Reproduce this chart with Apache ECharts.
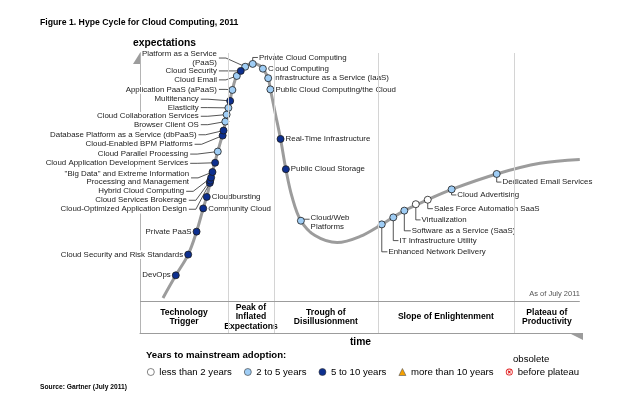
<!DOCTYPE html>
<html lang="en">
<head>
<meta charset="UTF-8" />
<title>Hype Cycle for Cloud Computing, 2011</title>
<script src="https://cdn.jsdelivr.net/npm/echarts@6/dist/echarts.min.js"></script>
<style>
  html, body { margin: 0; background: #fff; }
  #app { width: 640px; height: 397px; }
</style>
</head>
<body>
<div id="app"></div>
<script>
const FONT = '"Liberation Sans", Arial, sans-serif';

// years to mainstream adoption
const years = ['less than 2 years', '2 to 5 years', '5 to 10 years', 'more than 10 years', 'before plateau'];
const yearColors = ['#ffffff', '#9fcdf5', '#0d2f8f', '#f5a000', '#e02020'];

// the hype curve, [time, expectations]
const curve = [
  [5.2, 12.5], [8.1, 20.6], [10.9, 28.0], [12.8, 36.2], [14.3, 44.5], [15.4, 50.5],
  [16.4, 57.5], [17.6, 64.8], [18.9, 72.3], [20.0, 80.4], [20.9, 86.8], [21.9, 91.8],
  [23.8, 95.1], [25.5, 96.3], [27.0, 95.6], [27.8, 94.4], [29.0, 91.0], [29.5, 87.0],
  [30.6, 78.5], [31.8, 69.3], [33.0, 58.5], [34.4, 48.6], [36.4, 40.1], [39.6, 34.8],
  [44.6, 32.3], [49.8, 34.5], [54.7, 38.8], [59.8, 43.7], [65.1, 47.6], [70.5, 51.3],
  [80.7, 56.8], [90.5, 60.6], [99.5, 62.0]
];

// technologies: [name, time, expectations, years index]
const techs = [
  ['DevOps', 8.1, 20.6, 2],
  ['Cloud Security and Risk Standards', 10.9, 28.0, 2],
  ['Private PaaS', 12.8, 36.2, 2],
  ['Community Cloud', 14.3, 44.5, 2],
  ['Cloudbursting', 15.1, 48.6, 2],
  ['Cloud-Optimized Application Design', 15.8, 53.6, 2],
  ['Cloud Services Brokerage', 15.9, 54.4, 2],
  ['Hybrid Cloud Computing', 16.1, 55.5, 2],
  ['"Big Data" and Extreme Information\nProcessing and Management', 16.4, 57.5, 2],
  ['Cloud Application Development Services', 17.0, 60.8, 2],
  ['Cloud Parallel Processing', 17.6, 64.8, 1],
  ['Cloud-Enabled BPM Platforms', 18.7, 70.5, 2],
  ['Database Platform as a Service (dbPaaS)', 18.9, 72.3, 2],
  ['Browser Client OS', 19.3, 75.5, 1],
  ['Cloud Collaboration Services', 19.6, 78.0, 1],
  ['Elasticity', 20.0, 80.4, 1],
  ['Multitenancy', 20.4, 82.9, 2],
  ['Application PaaS (aPaaS)', 20.9, 86.8, 1],
  ['Cloud Email', 21.9, 91.8, 1],
  ['Cloud Security', 22.8, 93.6, 2],
  ['Platform as a Service\n(PaaS)', 23.8, 95.1, 1],
  ['Private Cloud Computing', 25.5, 96.1, 1],
  ['Cloud Computing', 27.8, 94.4, 1],
  ['Infrastructure as a Service (IaaS)', 29.0, 91.0, 1],
  ['Public Cloud Computing/the Cloud', 29.5, 87.0, 1],
  ['Real-Time Infrastructure', 31.8, 69.3, 2],
  ['Public Cloud Storage', 33.0, 58.5, 2],
  ['Cloud/Web\nPlatforms', 36.4, 40.1, 1],
  ['Enhanced Network Delivery', 54.7, 38.8, 1],
  ['IT Infrastructure Utility', 57.3, 41.3, 1],
  ['Software as a Service (SaaS)', 59.8, 43.7, 1],
  ['Virtualization', 62.4, 46.0, 0],
  ['Sales Force Automation SaaS', 65.1, 47.6, 0],
  ['Cloud Advertising', 70.5, 51.3, 1],
  ['Dedicated Email Services', 80.7, 56.8, 1]
];

// where each name is written: [name, label time, label expectations, kind]
// L = leader to a label on the left, D = down then right, U = up then right,
// H = short dash right, R = plain right, P = plain left
const callouts = [
  ['DevOps', null, null, 'P'],
  ['Cloud Security and Risk Standards', null, null, 'P'],
  ['Private PaaS', null, null, 'P'],
  ['Community Cloud', null, null, 'R'],
  ['Cloudbursting', null, null, 'R'],
  ['Cloud-Optimized Application Design', 10.6, 44.2, 'L'],
  ['Cloud Services Brokerage', 10.6, 47.4, 'L'],
  ['Hybrid Cloud Computing', 10.0, 50.6, 'L'],
  ['"Big Data" and Extreme Information\nProcessing and Management', 11.1, 55.4, 'L'],
  ['Cloud Application Development Services', 10.9, 60.6, 'L'],
  ['Cloud Parallel Processing', 10.9, 63.9, 'L'],
  ['Cloud-Enabled BPM Platforms', 11.9, 67.4, 'L'],
  ['Database Platform as a Service (dbPaaS)', 12.8, 70.8, 'L'],
  ['Browser Client OS', 13.3, 74.4, 'L'],
  ['Cloud Collaboration Services', 13.3, 77.4, 'L'],
  ['Elasticity', 13.3, 80.5, 'L'],
  ['Multitenancy', 13.3, 83.5, 'L'],
  ['Application PaaS (aPaaS)', 17.4, 87.0, 'L'],
  ['Cloud Email', 17.4, 90.4, 'L'],
  ['Cloud Security', 17.4, 93.6, 'L'],
  ['Platform as a Service\n(PaaS)', 17.4, 98.2, 'L'],
  ['Private Cloud Computing', 26.9, 98.4, 'U'],
  ['Cloud Computing', null, null, 'R'],
  ['Infrastructure as a Service (IaaS)', null, null, 'R'],
  ['Public Cloud Computing/the Cloud', null, null, 'R'],
  ['Real-Time Infrastructure', null, null, 'R'],
  ['Public Cloud Storage', null, null, 'R'],
  ['Cloud/Web\nPlatforms', 38.6, 39.6, 'H'],
  ['Enhanced Network Delivery', 56.2, 29.0, 'D'],
  ['IT Infrastructure Utility', 58.7, 33.0, 'D'],
  ['Software as a Service (SaaS)', 61.5, 36.5, 'D'],
  ['Virtualization', 63.7, 40.4, 'D'],
  ['Sales Force Automation SaaS', 66.5, 44.4, 'D'],
  ['Cloud Advertising', 71.8, 49.3, 'D'],
  ['Dedicated Email Services', 82.0, 53.9, 'D']
];

// phases along the time axis
const phases = ['Technology\nTrigger', 'Peak of\nInflated\nExpectations', 'Trough of\nDisillusionment',
  'Slope of Enlightenment', 'Plateau of\nProductivity'];
const phaseEdges = [0, 19.9, 30.3, 53.8, 84.6, 99.5];
const bandTop = 11.4;

const techByName = {};
techs.forEach(t => { techByName[t[0]] = t; });

const crossIcon = 'path://M12 1A11 11 0 1 0 12.001 1ZM12 3.8A8.2 8.2 0 1 1 11.999 3.8Z' +
  'M6.7 8.8L8.8 6.7L17.3 15.2L15.2 17.3ZM15.2 6.7L17.3 8.8L8.8 17.3L6.7 15.2Z';

function renderCallout(params, api) {
  const c = callouts[params.dataIndex];
  const t = techByName[c[0]];
  const p = api.coord([t[1], t[2]]);
  const a = c[1] == null ? null : api.coord([c[1], c[2]]);
  let pts = null, tx, ty, align = 'left';
  if (c[3] === 'L') {
    pts = [[p[0], p[1]], [a[0] + 9, a[1]], [a[0] + 2, a[1]]];
    tx = a[0]; ty = a[1]; align = 'right';
  } else if (c[3] === 'D' || c[3] === 'U') {
    pts = [[p[0], p[1]], [p[0], a[1]], [a[0] - 1, a[1]]];
    tx = a[0]; ty = a[1];
  } else if (c[3] === 'H') {
    pts = [[p[0], p[1] - 1.5], [a[0] - 1, p[1] - 1.5]];
    tx = a[0]; ty = a[1];
  } else if (c[3] === 'R') {
    tx = p[0] + 5; ty = p[1];
  } else {
    tx = p[0] - 5; ty = p[1]; align = 'right';
  }
  const children = [];
  if (pts) {
    children.push({
      type: 'polyline', shape: { points: pts },
      style: { stroke: '#2a2a2a', lineWidth: 0.8, fill: 'none' }
    });
  }
  children.push({
    type: 'text',
    style: {
      text: c[0], x: tx, y: ty, align: align, verticalAlign: 'middle',
      fontSize: 7.9, fontFamily: FONT, fill: '#222', lineHeight: 8.7,
      backgroundColor: '#fff'
    }
  });
  return { type: 'group', children: children };
}

const chart = echarts.init(document.getElementById('app'));

const series = [
  {
    type: 'line',
    data: curve,
    smooth: 0.35,
    symbol: 'none',
    silent: true,
    z: 2,
    lineStyle: { color: '#9c9c9c', width: 3 },
    markLine: {
      silent: true,
      symbol: ['none', 'none'],
      label: { show: false },
      data: phaseEdges.slice(1, 5).map(x => [
        { coord: [x, 0], lineStyle: { color: '#d4d4d4', width: 1, type: 'solid' } },
        { coord: [x, 100] }
      ]).concat([[
        { coord: [0, bandTop], lineStyle: { color: '#9c9c9c', width: 1, type: 'solid' } },
        { coord: [99.5, bandTop] }
      ]])
    },
    markArea: {
      silent: true,
      itemStyle: { color: 'transparent' },
      label: {
        show: true, position: 'inside', color: '#000', fontFamily: FONT,
        fontWeight: 'bold', fontSize: 8.6, lineHeight: 9.6
      },
      data: phases.map((ph, i) => [
        { name: ph, coord: [phaseEdges[i], 0] },
        { coord: [phaseEdges[i + 1], bandTop] }
      ])
    }
  },
  {
    type: 'custom',
    data: callouts.map(c => [techByName[c[0]][1], techByName[c[0]][2]]),
    renderItem: renderCallout,
    clip: false,
    silent: true,
    z: 3
  }
];

years.forEach((name, i) => {
  series.push({
    type: 'scatter',
    name: name,
    data: techs.filter(t => t[3] === i).map(t => [t[1], t[2]]),
    symbol: i === 3 ? 'triangle' : 'circle',
    symbolSize: 7,
    z: 4,
    silent: true,
    itemStyle: {
      color: yearColors[i],
      borderColor: i === 4 ? yearColors[i] : '#1a1a1a',
      borderWidth: i === 4 ? 0 : 0.8,
      opacity: 1
    }
  });
});

chart.setOption({
  animation: false,
  grid: { left: 140, right: 58, top: 53, bottom: 64 },
  xAxis: {
    type: 'value', min: 0, max: 100,
    axisLine: { lineStyle: { color: '#9c9c9c', width: 1 } },
    axisTick: { show: false }, axisLabel: { show: false }, splitLine: { show: false }
  },
  yAxis: {
    type: 'value', min: 0, max: 100,
    axisLine: { show: true, lineStyle: { color: '#b4b4b4', width: 1 } },
    axisTick: { show: false }, axisLabel: { show: false }, splitLine: { show: false }
  },
  legend: {
    left: 142, top: 362,
    itemWidth: 7, itemHeight: 7, itemGap: 12.2,
    selectedMode: false,
    itemStyle: { borderWidth: 0.6 },
    textStyle: { fontSize: 9.6, color: '#000', fontFamily: FONT },
    data: [
      { name: years[0], icon: 'circle', itemStyle: { borderColor: '#333', borderWidth: 0.6 } },
      { name: years[1], icon: 'circle', itemStyle: { borderColor: '#333', borderWidth: 0.6 } },
      { name: years[2], icon: 'circle', itemStyle: { borderColor: '#333', borderWidth: 0.6 } },
      { name: years[3], icon: 'triangle', itemStyle: { borderColor: '#555', borderWidth: 0.6 } },
      { name: years[4], icon: crossIcon, itemStyle: { borderWidth: 0 } }
    ]
  },
  graphic: [
    { type: 'polygon', shape: { points: [[140.5, 52], [140.5, 64], [133, 64]] }, style: { fill: '#9c9c9c' } },
    { type: 'polygon', shape: { points: [[569, 333], [583, 333], [583, 340]] }, style: { fill: '#9c9c9c' } },
    { type: 'text', x: 40, y: 23, style: { text: 'Figure 1. Hype Cycle for Cloud Computing, 2011', fontSize: 8.7, fontWeight: 'bold', fontFamily: FONT, fill: '#000', verticalAlign: 'middle' } },
    { type: 'text', x: 133, y: 43, style: { text: 'expectations', fontSize: 10.3, fontWeight: 'bold', fontFamily: FONT, fill: '#000', verticalAlign: 'middle' } },
    { type: 'text', x: 580, y: 294, style: { text: 'As of July 2011', fontSize: 7.5, fontFamily: FONT, fill: '#555', align: 'right', verticalAlign: 'middle' } },
    { type: 'text', x: 360.5, y: 342, style: { text: 'time', fontSize: 10.3, fontWeight: 'bold', fontFamily: FONT, fill: '#000', align: 'center', verticalAlign: 'middle' } },
    { type: 'text', x: 146, y: 355, style: { text: 'Years to mainstream adoption:', fontSize: 9.6, fontWeight: 'bold', fontFamily: FONT, fill: '#000', verticalAlign: 'middle' } },
    { type: 'text', x: 513, y: 359, style: { text: 'obsolete', fontSize: 9.6, fontFamily: FONT, fill: '#000', verticalAlign: 'middle' } },
    { type: 'text', x: 40, y: 387, style: { text: 'Source: Gartner (July 2011)', fontSize: 6.7, fontWeight: 'bold', fontFamily: FONT, fill: '#000', verticalAlign: 'middle' } }
  ],
  series: series
});
</script>
</body>
</html>
